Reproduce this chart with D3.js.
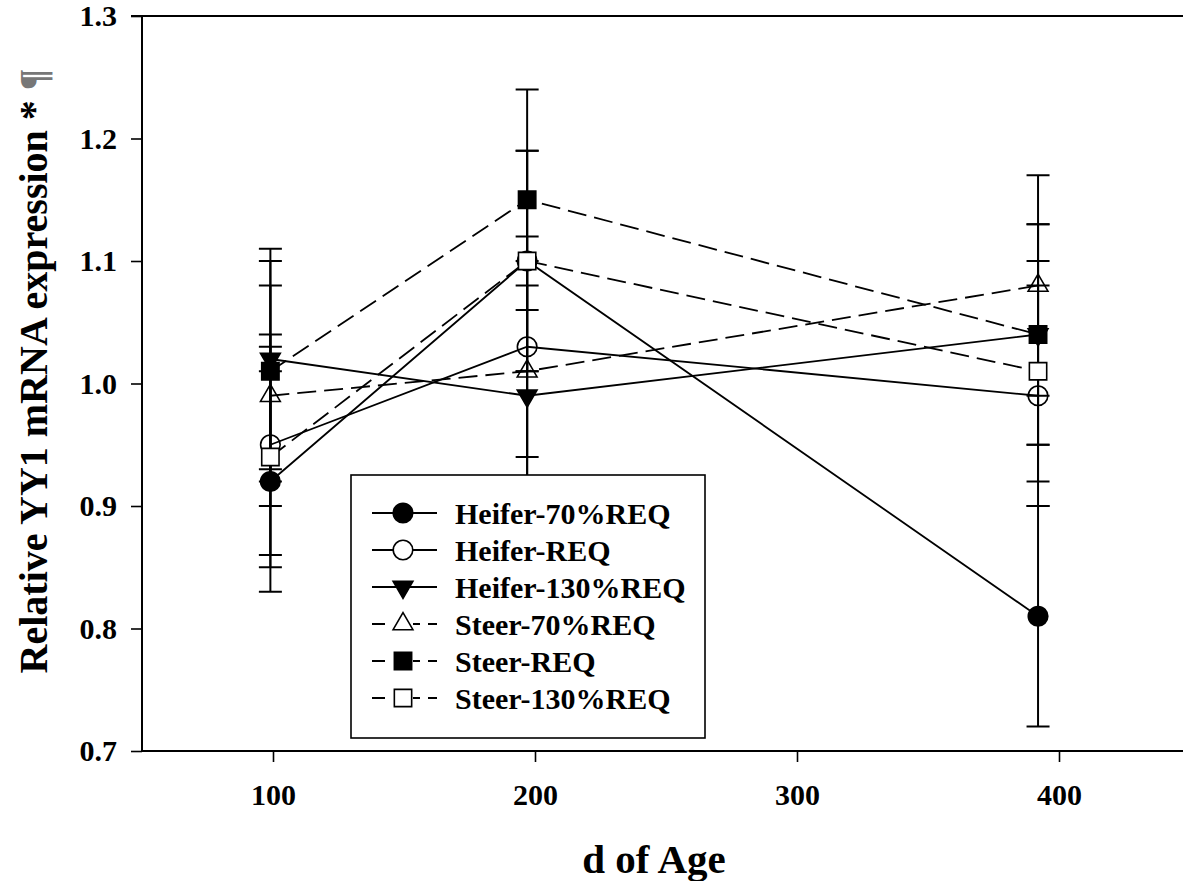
<!DOCTYPE html>
<html>
<head>
<meta charset="utf-8">
<script src="https://cdn.jsdelivr.net/npm/d3@7"></script>
<style>
  html, body { margin: 0; padding: 0; background: #fff; }
  svg { display: block; }
  text { font-family: "Liberation Serif", "Times New Roman", serif; font-weight: bold; fill: #000; }
</style>
</head>
<body>
<svg id="chart" width="1183" height="881"></svg>
<script>
// Sampling ages (d) and group means with their standard errors
const ages = [99, 197, 392];
const heifer70 = [0.92, 1.10, 0.81];
const heiferREQ = [0.95, 1.03, 0.99];
const heifer130 = [1.02, 0.99, 1.04];
const steer70 = [0.99, 1.01, 1.08];
const steerREQ = [1.01, 1.15, 1.04];
const steer130 = [0.94, 1.10, 1.01];
const heifer70SE = [0.09, 0.09, 0.09];
const heiferREQSE = [0.09, 0.09, 0.09];
const heifer130SE = [0.09, 0.09, 0.09];
const steer70SE = [0.09, 0.09, 0.09];
const steerREQSE = [0.09, 0.09, 0.09];
const steer130SE = [0.09, 0.09, 0.09];

const xTicks = [100, 200, 300, 400];
const yTicks = [0.7, 0.8, 0.9, 1.0, 1.1, 1.2, 1.3];
const xTitle = "d of Age";
const yTitle = "Relative YY1 mRNA expression *";

const series = [
  { name: "Heifer-70%REQ",  values: heifer70,  se: heifer70SE,  symbol: "circle",   fill: "#000", dashed: false },
  { name: "Heifer-REQ",     values: heiferREQ, se: heiferREQSE, symbol: "circle",   fill: "none", dashed: false },
  { name: "Heifer-130%REQ", values: heifer130, se: heifer130SE, symbol: "triDown",  fill: "#000", dashed: false },
  { name: "Steer-70%REQ",   values: steer70,   se: steer70SE,   symbol: "triUp",    fill: "none", dashed: true },
  { name: "Steer-REQ",      values: steerREQ,  se: steerREQSE,  symbol: "square",   fill: "#000", dashed: true },
  { name: "Steer-130%REQ",  values: steer130,  se: steer130SE,  symbol: "square",   fill: "#fff", dashed: true }
];

const svg = d3.select("#chart");
const x = d3.scaleLinear().domain([50, 450]).range([142, 1190]);
const y = d3.scaleLinear().domain([0.7, 1.3]).range([751, 16]);

const DASH = "19,8";

function symbolPath(kind) {
  if (kind === "circle") return d3.symbol(d3.symbolCircle, 300)();
  if (kind === "square") return d3.symbol(d3.symbolSquare, 300)();
  return d3.symbol(d3.symbolTriangle, 170)();
}
function symbolTransform(kind, px, py) {
  return kind === "triDown" ? `translate(${px},${py}) rotate(180)` : `translate(${px},${py})`;
}

// Frame: top border line
svg.append("line")
  .attr("x1", x(50)).attr("x2", 1183)
  .attr("y1", y(1.3)).attr("y2", y(1.3))
  .attr("stroke", "#000").attr("stroke-width", 2);

// Axes
const yAxis = d3.axisLeft(y).tickValues(yTicks).tickFormat(d3.format(".1f")).tickSize(11).tickPadding(14);
const xAxis = d3.axisBottom(x).tickValues(xTicks).tickFormat(d3.format("d")).tickSize(11).tickPadding(22);

const gy = svg.append("g").attr("transform", `translate(${x(50)},0)`).call(yAxis);
const gx = svg.append("g").attr("transform", `translate(0,${y(0.7)})`).call(xAxis);
[gx, gy].forEach(g => {
  g.select(".domain").attr("stroke", "#000").attr("stroke-width", 2);
  g.selectAll(".tick line").attr("stroke", "#000").attr("stroke-width", 1.6);
  g.selectAll(".tick text")
    .style("font-family", '"Liberation Serif", "Times New Roman", serif')
    .style("font-weight", "bold")
    .style("font-size", "30px")
    .attr("fill", "#000");
});
gy.select(".domain").attr("d", `M-11,${y(1.3)}H0V${y(0.7)}`);
gx.select(".domain").attr("d", `M${x(50)},0H1183`);

// Error bars (drawn first so that markers sit on top)
const capHalf = 11.5;
const eb = svg.append("g").attr("class", "errorbars");
series.forEach(s => {
  s.values.forEach((v, i) => {
    const px = x(ages[i]);
    const lo = y(v - s.se[i]), hi = y(v + s.se[i]);
    eb.append("line").attr("x1", px).attr("x2", px).attr("y1", lo).attr("y2", hi)
      .attr("stroke", "#000").attr("stroke-width", 2);
    [lo, hi].forEach(cy => eb.append("line")
      .attr("x1", px - capHalf).attr("x2", px + capHalf).attr("y1", cy).attr("y2", cy)
      .attr("stroke", "#000").attr("stroke-width", 2));
  });
});

// Connecting lines
const lineGen = d3.line().x((d, i) => x(ages[i])).y(d => y(d));
series.forEach(s => {
  svg.append("path")
    .attr("d", lineGen(s.values))
    .attr("fill", "none")
    .attr("stroke", "#000")
    .attr("stroke-width", 1.8)
    .attr("stroke-dasharray", s.dashed ? DASH : null);
});

// Markers
series.forEach(s => {
  svg.append("g").selectAll("path")
    .data(s.values)
    .join("path")
    .attr("d", symbolPath(s.symbol))
    .attr("transform", (d, i) => symbolTransform(s.symbol, x(ages[i]), y(d)))
    .attr("fill", s.fill)
    .attr("stroke", "#000")
    .attr("stroke-width", 1.6);
});

// Legend
const lg = svg.append("g").attr("transform", "translate(351,475)");
lg.append("rect").attr("width", 354).attr("height", 263)
  .attr("fill", "#fff").attr("stroke", "#000").attr("stroke-width", 1.6);
series.forEach((s, i) => {
  const cy = 38 + i * 37;
  lg.append("line")
    .attr("x1", 21).attr("x2", 86).attr("y1", cy).attr("y2", cy)
    .attr("stroke", "#000").attr("stroke-width", 1.8)
    .attr("stroke-dasharray", s.dashed ? "13,28,7,8,9" : null);
  lg.append("path")
    .attr("d", symbolPath(s.symbol))
    .attr("transform", symbolTransform(s.symbol, 52, cy))
    .attr("fill", s.fill === "none" ? "#fff" : s.fill)
    .attr("stroke", "#000").attr("stroke-width", 1.6);
  lg.append("text")
    .attr("x", 104).attr("y", cy)
    .attr("dy", "0.35em")
    .style("font-size", "30px")
    .text(s.name);
});

// Axis titles
svg.append("text")
  .attr("x", 654).attr("y", 873)
  .attr("text-anchor", "middle")
  .style("font-size", "41px")
  .text(xTitle);

const yt = svg.append("text")
  .attr("transform", "translate(47,371) rotate(-90)")
  .attr("text-anchor", "middle")
  .style("font-size", "40px");
yt.append("tspan").text(yTitle + " ");
yt.append("tspan").attr("fill", "#777").style("fill", "#777").text("¶");
</script>
</body>
</html>
